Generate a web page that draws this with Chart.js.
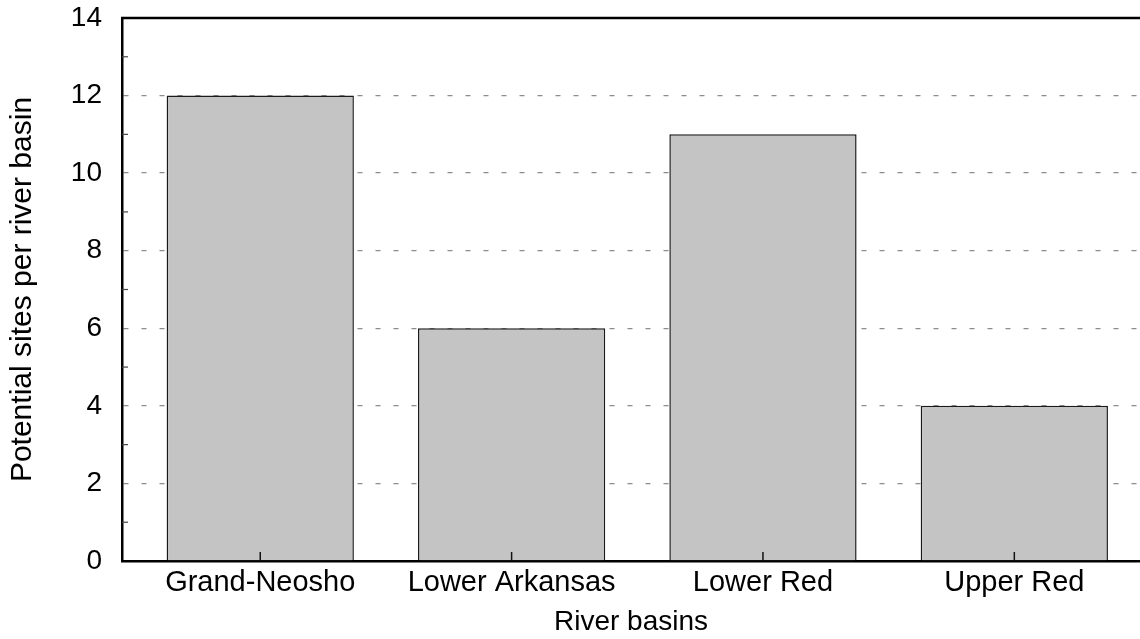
<!DOCTYPE html>
<html>
<head>
<meta charset="utf-8">
<script src="https://cdn.jsdelivr.net/npm/chart.js@4.4.0/dist/chart.umd.min.js"></script>
<style>
  html, body { margin: 0; padding: 0; background: #fff; }
  #grafico { display: block; }
</style>
</head>
<body>
<canvas id="grafico" width="1140" height="639" style="width:1140px;height:639px"></canvas>
<script>
// DATOS:
const cuencas = ["Grand-Neosho", "Lower Arkansas", "Lower Red", "Upper Red"];
const sitios = [12, 6, 11, 4];
const ticksY = [0, 2, 4, 6, 8, 10, 12, 14];
const menoresY = [1, 3, 5, 7, 9, 11, 13];

// marcas interiores y borde superior
const marcas = {
    id: "marcas",
    afterDraw(chart) {
        const ctx = chart.ctx;
        const area = chart.chartArea;
        const x = chart.scales.x;
        const y = chart.scales.y;
        ctx.save();
        ctx.strokeStyle = "#000";
        ctx.lineWidth = 2.3;
        ctx.beginPath();
        ctx.moveTo(area.left - 1, area.top);
        ctx.lineTo(area.right, area.top);
        ctx.stroke();

        ctx.lineWidth = 1.2;
        ctx.strokeStyle = "#444";
        menoresY.forEach(v => {
            const py = y.getPixelForValue(v);
            ctx.beginPath();
            ctx.moveTo(area.left, py);
            ctx.lineTo(area.left + 6, py);
            ctx.stroke();
        });
        ctx.lineWidth = 1.5;
        ctx.strokeStyle = "#111";
        cuencas.forEach((c, i) => {
            const px = x.getPixelForValue(i);
            ctx.beginPath();
            ctx.moveTo(px, area.bottom);
            ctx.lineTo(px, area.bottom - 9);
            ctx.stroke();
        });
        ctx.restore();
    }
};

const ctx = document.getElementById("grafico").getContext("2d");

new Chart(ctx, {
    type: "bar",
    data: {
        datasets: [{
            data: sitios.map((v, i) => ({ x: i, y: v })),
            backgroundColor: "#c4c4c4",
            borderColor: "#1a1a1a",
            borderWidth: 1.5,
            barPercentage: 0.745,
            categoryPercentage: 1
        }]
    },
    options: {
        responsive: false,
        devicePixelRatio: 1,
        animation: false,
        layout: { padding: { top: 18, right: 0, left: 0, bottom: 0 } },
        plugins: {
            legend: { display: false },
            tooltip: { enabled: false }
        },
        scales: {
            x: {
                type: "linear",
                offset: false,
                min: -0.55,
                max: 3.5,
                afterBuildTicks: function(scale) {
                    scale.ticks = cuencas.map((c, i) => ({ value: i }));
                },
                afterFit: function(scale) {
                    scale.height = 78;
                    scale.paddingLeft = 0;
                    scale.paddingRight = 0;
                },
                grid: { display: false, drawTicks: false, offset: false },
                border: { display: true, color: "#000", width: 2.5 },
                ticks: {
                    padding: 5,
                    color: "#000",
                    maxRotation: 0,
                    font: { family: "Liberation Sans", size: 29 },
                    callback: function(v) { return cuencas[v]; }
                },
                title: {
                    display: true,
                    text: "River basins",
                    color: "#000",
                    font: { family: "Liberation Sans", size: 28 },
                    padding: { top: 0, bottom: 0 }
                }
            },
            y: {
                min: 0,
                max: 14,
                afterBuildTicks: function(scale) {
                    scale.ticks = ticksY.map(v => ({ value: v }));
                },
                afterFit: function(scale) {
                    scale.width = 122;
                    scale.paddingTop = 0;
                    scale.paddingBottom = 0;
                },
                grid: {
                    color: "#8c8c8c",
                    lineWidth: 1.3,
                    drawTicks: false
                },
                border: { display: true, color: "#000", width: 2.5, dash: [5, 13] },
                ticks: {
                    padding: 20,
                    color: "#000",
                    font: { family: "Liberation Sans", size: 28 }
                },
                title: {
                    display: true,
                    text: "Potential sites per river basin",
                    color: "#000",
                    font: { family: "Liberation Sans", size: 30 },
                    padding: { top: 5, bottom: 0 }
                }
            }
        }
    },
    plugins: [marcas]
});
</script>
</body>
</html>
